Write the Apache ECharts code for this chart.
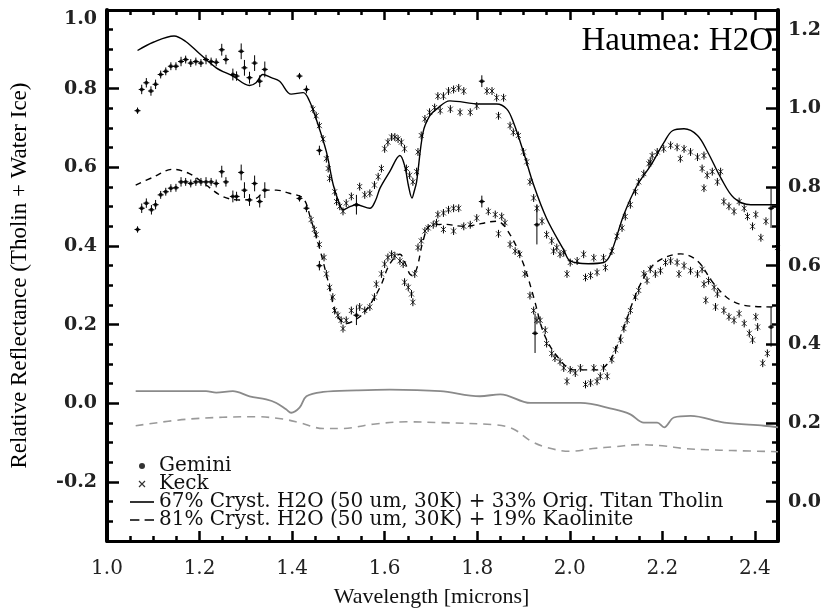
<!DOCTYPE html>
<html>
<head>
<meta charset="utf-8">
<script src="https://cdn.jsdelivr.net/npm/echarts@6/dist/echarts.min.js"></script>
<style>
  html, body { margin: 0; padding: 0; background: #fff; }
  #chart { width: 825px; height: 613px; }
</style>
</head>
<body>
<div id="chart"></div>
<script>
// Axis ticks (left: reflectance, right: residual scale, bottom: wavelength)
const xTicks = [1.0, 1.2, 1.4, 1.6, 1.8, 2.0, 2.2, 2.4];
const leftTicks = [-0.2, 0.0, 0.2, 0.4, 0.6, 0.8, 1.0];
const rightTicks = [0.0, 0.2, 0.4, 0.6, 0.8, 1.0, 1.2];

// Gemini spectrum, upper copy: [wavelength, reflectance, error]
const gemUpper = [
  [1.066,0.744,0.008],[1.075,0.798,0.012],[1.085,0.815,0.012],[1.095,0.794,0.012],[1.105,0.811,0.012],
  [1.116,0.836,0.010],[1.127,0.844,0.010],[1.138,0.857,0.010],[1.149,0.857,0.010],[1.160,0.869,0.012],
  [1.170,0.874,0.010],[1.181,0.865,0.010],[1.192,0.869,0.010],[1.203,0.865,0.010],[1.214,0.874,0.012],
  [1.225,0.869,0.010],[1.236,0.867,0.010],[1.248,0.899,0.015],[1.257,0.874,0.012],[1.272,0.836,0.015],
  [1.280,0.832,0.012],[1.290,0.895,0.020],[1.297,0.853,0.020],[1.308,0.828,0.015],[1.319,0.865,0.020],
  [1.330,0.819,0.015],[1.341,0.849,0.020],[1.416,0.832,0.008],[1.431,0.798,0.010],[1.459,0.643,0.012],
  [1.539,0.505,0.025],[1.810,0.819,0.015],[1.929,0.454,0.050],[2.435,0.496,0.050]
];

// Keck spectrum, upper copy: [wavelength, reflectance, error?]
const keckUpper = [
  [1.445,0.748],[1.452,0.731],[1.459,0.706],[1.467,0.672],[1.474,0.622],[1.478,0.597],[1.481,0.572],
  [1.492,0.538],[1.496,0.513],[1.503,0.501],[1.510,0.488],[1.517,0.509],[1.528,0.526],[1.546,0.551],
  [1.557,0.530],[1.568,0.534],[1.578,0.555],[1.586,0.576],[1.593,0.597],[1.600,0.647],[1.607,0.664],
  [1.615,0.677],[1.622,0.677],[1.629,0.672],[1.636,0.664],[1.643,0.647],[1.647,0.597],[1.654,0.580],
  [1.661,0.563],[1.669,0.589],[1.672,0.639],[1.679,0.681],[1.687,0.723],[1.697,0.740],[1.708,0.752],
  [1.715,0.781],[1.720,0.744],[1.727,0.781],[1.738,0.794],[1.742,0.748],[1.749,0.798],[1.760,0.802],
  [1.763,0.740],[1.771,0.794],[1.785,0.740],[1.799,0.756],[1.821,0.794],[1.832,0.794],[1.842,0.777],
  [1.846,0.731],[1.857,0.777],[1.871,0.706],[1.878,0.689],[1.889,0.681],[1.900,0.639],[1.907,0.614],
  [1.914,0.563],[1.922,0.522],[1.929,0.496],[1.940,0.463],[1.950,0.429],[1.961,0.413],[1.965,0.387],
  [1.972,0.396],[1.979,0.379],[1.987,0.383],[1.994,0.329],[2.001,0.358],[2.016,0.362],[2.030,0.379],
  [2.034,0.320],[2.045,0.325],[2.052,0.370],[2.059,0.333],[2.073,0.370],[2.077,0.345],[2.091,0.387],
  [2.102,0.425],[2.113,0.446],[2.120,0.475],[2.131,0.505],[2.142,0.538],[2.149,0.563],[2.160,0.584],
  [2.171,0.609],[2.174,0.614],[2.178,0.630],[2.189,0.639],[2.203,0.647],[2.218,0.656],[2.232,0.651],
  [2.239,0.622],[2.247,0.647],[2.261,0.639],[2.276,0.626],[2.286,0.597],[2.290,0.630],[2.290,0.547],
  [2.297,0.580],[2.308,0.589],[2.319,0.563],[2.326,0.589],[2.333,0.513],[2.344,0.501],[2.355,0.488,0.02],
  [2.366,0.513],[2.377,0.496,0.02],[2.384,0.475],[2.395,0.450,0.035],[2.402,0.480],[2.413,0.421,0.03],
  [2.424,0.463,0.03],[2.449,0.396,0.04]
];

// Gemini spectrum, lower copy
const gemLower = [
  [1.066,0.442,0.008],[1.075,0.496,0.012],[1.085,0.509,0.012],[1.096,0.492,0.012],[1.105,0.505,0.012],
  [1.116,0.530,0.010],[1.127,0.538,0.010],[1.138,0.547,0.010],[1.149,0.548,0.010],[1.160,0.563,0.012],
  [1.170,0.563,0.010],[1.181,0.559,0.010],[1.192,0.563,0.010],[1.203,0.563,0.010],[1.214,0.563,0.012],
  [1.225,0.563,0.010],[1.236,0.559,0.010],[1.248,0.589,0.015],[1.257,0.563,0.012],[1.272,0.526,0.015],
  [1.280,0.526,0.012],[1.290,0.587,0.020],[1.297,0.542,0.020],[1.308,0.517,0.015],[1.319,0.559,0.020],
  [1.330,0.513,0.015],[1.341,0.542,0.020],[1.416,0.521,0.008],[1.431,0.496,0.010],[1.459,0.350,0.012],
  [1.539,0.224,0.025],[1.810,0.513,0.015],[1.925,0.178,0.050],[2.435,0.194,0.050]
];

// Keck spectrum, lower copy
const keckLower = [
  [1.441,0.467],[1.448,0.442],[1.452,0.429],[1.459,0.404],[1.469,0.371],[1.474,0.329],[1.481,0.295],
  [1.488,0.270],[1.492,0.236],[1.499,0.224],[1.506,0.211],[1.510,0.190],[1.517,0.211],[1.528,0.236],
  [1.546,0.245],[1.557,0.236],[1.568,0.245],[1.578,0.270],[1.582,0.303],[1.593,0.329],[1.600,0.354],
  [1.607,0.371],[1.615,0.379],[1.622,0.375],[1.633,0.362],[1.640,0.354],[1.643,0.308],[1.651,0.295],
  [1.658,0.278],[1.661,0.257],[1.665,0.329],[1.672,0.396],[1.679,0.413],[1.687,0.438],[1.694,0.446],
  [1.705,0.454],[1.712,0.459],[1.715,0.480],[1.727,0.484],[1.727,0.442],[1.738,0.492],[1.749,0.496],
  [1.749,0.438],[1.760,0.496],[1.771,0.450],[1.785,0.454],[1.799,0.471],[1.824,0.488],[1.839,0.480],
  [1.846,0.431],[1.853,0.475],[1.860,0.459],[1.871,0.404],[1.882,0.387],[1.892,0.379],[1.903,0.329],
  [1.914,0.274],[1.922,0.236],[1.929,0.211],[1.936,0.211],[1.947,0.186],[1.950,0.152],[1.961,0.127],
  [1.968,0.115],[1.979,0.106],[1.987,0.090],[1.994,0.056],[2.001,0.085],[2.012,0.077],[2.023,0.090],
  [2.034,0.048],[2.045,0.052],[2.052,0.090],[2.059,0.056],[2.066,0.069],[2.073,0.090],[2.081,0.069],
  [2.091,0.111],[2.099,0.136],[2.110,0.161],[2.117,0.190],[2.124,0.211],[2.131,0.236],[2.142,0.270],
  [2.149,0.287],[2.160,0.329],[2.167,0.312],[2.174,0.341],[2.185,0.329],[2.196,0.337],[2.207,0.358],
  [2.218,0.362],[2.232,0.358],[2.236,0.329],[2.247,0.350],[2.261,0.337],[2.276,0.329],[2.286,0.341],
  [2.290,0.303],[2.294,0.262],[2.300,0.312],[2.312,0.295],[2.315,0.245],[2.319,0.278],[2.333,0.236],
  [2.344,0.220],[2.355,0.211,0.02],[2.366,0.228],[2.377,0.203,0.02],[2.388,0.178],[2.395,0.161,0.035],
  [2.402,0.220],[2.406,0.194],[2.417,0.102,0.03],[2.427,0.127,0.03]
];

// Mixture models
const modelTholin = [
  [1.066,0.897],[1.100,0.918],[1.145,0.934],[1.170,0.920],[1.199,0.890],[1.236,0.853],[1.272,0.832],
  [1.308,0.808],[1.322,0.815],[1.337,0.836],[1.355,0.828],[1.373,0.819],[1.398,0.786],[1.424,0.790],
  [1.437,0.770],[1.452,0.723],[1.474,0.640],[1.489,0.555],[1.503,0.505],[1.510,0.492],[1.525,0.500],
  [1.539,0.505],[1.568,0.496],[1.580,0.515],[1.590,0.547],[1.611,0.589],[1.633,0.630],[1.643,0.605],
  [1.652,0.550],[1.659,0.522],[1.664,0.540],[1.669,0.563],[1.683,0.689],[1.697,0.730],[1.712,0.748],
  [1.741,0.769],[1.806,0.761],[1.842,0.761],[1.864,0.748],[1.878,0.715],[1.900,0.639],[1.922,0.555],
  [1.950,0.470],[1.987,0.390],[2.001,0.362],[2.040,0.355],[2.073,0.358],[2.088,0.379],[2.117,0.480],
  [2.146,0.555],[2.175,0.605],[2.204,0.664],[2.222,0.693],[2.247,0.698],[2.276,0.681],[2.298,0.639],
  [2.327,0.572],[2.355,0.522],[2.391,0.505],[2.450,0.505]
];
const modelKaolinite = [
  [1.062,0.555],[1.100,0.575],[1.142,0.595],[1.178,0.584],[1.214,0.555],[1.250,0.526],[1.286,0.517],
  [1.322,0.521],[1.344,0.542],[1.366,0.542],[1.394,0.534],[1.424,0.521],[1.440,0.470],[1.459,0.396],
  [1.481,0.295],[1.495,0.228],[1.517,0.203],[1.540,0.215],[1.560,0.237],[1.590,0.295],[1.611,0.354],
  [1.633,0.379],[1.645,0.355],[1.654,0.329],[1.660,0.325],[1.670,0.345],[1.683,0.413],[1.698,0.452],
  [1.730,0.455],[1.770,0.450],[1.842,0.463],[1.871,0.429],[1.900,0.354],[1.922,0.270],[1.944,0.178],
  [1.973,0.119],[2.009,0.085],[2.059,0.085],[2.088,0.111],[2.117,0.194],[2.146,0.286],[2.175,0.345],
  [2.204,0.370],[2.240,0.380],[2.276,0.362],[2.312,0.303],[2.348,0.262],[2.391,0.247],[2.450,0.245]
];

// Residual curves (grey)
const residTholin = [
  [1.062,0.031],[1.214,0.031],[1.236,0.027],[1.272,0.031],[1.308,0.018],[1.344,0.010],[1.366,0.001],
  [1.387,-0.015],[1.398,-0.024],[1.416,-0.011],[1.431,0.018],[1.467,0.029],[1.539,0.033],[1.611,0.035],
  [1.720,0.031],[1.806,0.018],[1.850,0.023],[1.915,0.001],[2.023,0.001],[2.095,-0.015],[2.131,-0.028],
  [2.160,-0.049],[2.189,-0.049],[2.204,-0.061],[2.225,-0.036],[2.261,-0.032],[2.334,-0.049],
  [2.420,-0.057],[2.450,-0.061]
];
const residKaolinite = [
  [1.062,-0.057],[1.178,-0.040],[1.322,-0.034],[1.380,-0.040],[1.416,-0.049],[1.467,-0.064],
  [1.510,-0.064],[1.575,-0.053],[1.647,-0.047],[1.720,-0.049],[1.842,-0.055],[1.878,-0.065],
  [1.915,-0.095],[1.950,-0.112],[2.000,-0.122],[2.050,-0.115],[2.100,-0.110],[2.150,-0.105],
  [2.200,-0.108],[2.250,-0.115],[2.300,-0.118],[2.350,-0.120],[2.450,-0.123]
];

const NAME_THOLIN = '67% Cryst. H2O (50 um, 30K) + 33% Orig. Titan Tholin';
const NAME_KAOL = '81% Cryst. H2O (50 um, 30K) + 19% Kaolinite';
const X_PATH = 'path://M0,0L10,10M10,0L0,10';
const SOLID_ICON = 'path://M0,0H24V1.6H0Z';
const DASH_ICON = 'path://M0,0H9V1.6H0ZM14,0H23V1.6H14Z';

const LEFT_RANGE = [-0.35, 1.0];
const RIGHT_RANGE = [-0.1, 1.25];

// vertical error bar, with a short horizontal arm for Gemini points
function errorBars(withArm) {
  return function (params, api) {
    const x = api.value(0), y = api.value(1);
    let e = api.value(2);
    if (!isFinite(e)) e = 0.01;
    const c = api.coord([x, y]);
    const t = api.coord([x, y + e]);
    const b = api.coord([x, y - e]);
    const style = { stroke: '#000', lineWidth: 1 };
    const kids = [{ type: 'line', shape: { x1: c[0], y1: t[1], x2: c[0], y2: b[1] }, style }];
    if (withArm) kids.push({ type: 'line', shape: { x1: c[0] - 3, y1: c[1], x2: c[0] + 3, y2: c[1] }, style });
    return { type: 'group', children: kids };
  };
}

const serif = 'Liberation Serif';
const tickFont = { fontFamily: 'DejaVu Serif', fontSize: 19, fontWeight: 'bold', color: '#222' };
// the label at the very top edge sits a little lower than its tick
const tickRich = { edge: { fontFamily: 'DejaVu Serif', fontSize: 19, fontWeight: 'bold', color: '#222', padding: [18, 0, 0, 0] } };

function yAxisPair(pos, range, ticks, lineW) {
  const top = ticks[ticks.length - 1];
  return [
    {
      type: 'value', position: pos, min: range[0], max: range[1],
      axisLine: { show: true, onZero: false, lineStyle: { color: '#000', width: lineW } },
      axisTick: { show: true, inside: true, length: 12, lineStyle: { color: '#000', width: 2.5 }, customValues: ticks },
      axisLabel: Object.assign({
        customValues: ticks, margin: 10, rich: tickRich,
        formatter: v => (Math.abs(v - top) < 1e-9 && top >= range[1] - 1e-9) ? '{edge|' + v.toFixed(1) + '}' : v.toFixed(1)
      }, tickFont),
      splitLine: { show: false }
    },
    {
      type: 'value', position: pos, min: range[0], max: range[1], interval: 0.05,
      axisLine: { show: false, onZero: false },
      axisTick: { show: true, inside: true, length: 6, lineStyle: { color: '#000', width: 2.5 } },
      axisLabel: { show: false },
      splitLine: { show: false }
    }
  ];
}

const chart = echarts.init(document.getElementById('chart'), null, { renderer: 'canvas' });

const leftAxes = yAxisPair('left', LEFT_RANGE, leftTicks, 4);
leftAxes[0].name = 'Relative Reflectance (Tholin + Water Ice)';
leftAxes[0].nameLocation = 'middle';
leftAxes[0].nameGap = 76;
leftAxes[0].nameTextStyle = { fontFamily: serif, fontSize: 23, color: '#000' };
const rightAxes = yAxisPair('right', RIGHT_RANGE, rightTicks, 4);

const xBase = {
  type: 'value', min: 1.0, max: 2.45, interval: 0.2,
  axisTick: { show: true, inside: true, length: 10, lineStyle: { color: '#000', width: 2.5 } },
  minorTick: { show: true, splitNumber: 4, length: 5, lineStyle: { color: '#000', width: 2.5 } },
  splitLine: { show: false }, minorSplitLine: { show: false }
};

const lineSeries = (name, data, color, type, width) => ({
  name, type: 'line', data, yAxisIndex: 0, xAxisIndex: 0, smooth: 0.35,
  symbol: 'none', showSymbol: false, silent: true, animation: false,
  lineStyle: { color, width, type }, itemStyle: { color }, z: 2
});

const errSeries = (data, arm) => ({
  type: 'custom', data, renderItem: errorBars(arm), encode: { x: 0, y: 1 },
  xAxisIndex: 0, yAxisIndex: 0, silent: true, animation: false, z: 3
});

const scatter = (name, data, symbol, size, style) => ({
  name, type: 'scatter', data: data.map(d => [d[0], d[1]]), symbol, symbolSize: size,
  xAxisIndex: 0, yAxisIndex: 0, silent: true, animation: false, itemStyle: style, z: 4
});

chart.setOption({
  backgroundColor: '#fff',
  animation: false,
  grid: { left: 107, right: 47, top: 10, bottom: 69, containLabel: false },
  xAxis: [
    Object.assign({}, xBase, {
      position: 'bottom',
      axisLine: { show: true, onZero: false, lineStyle: { color: '#000', width: 3 } },
      axisLabel: { margin: 18, fontFamily: 'DejaVu Serif', fontSize: 20, color: '#222', formatter: v => v.toFixed(1),
        customValues: xTicks },
      name: 'Wavelength [microns]', nameLocation: 'middle', nameGap: 45,
      nameTextStyle: { fontFamily: serif, fontSize: 22, color: '#111', padding: [0, 22, 0, 0] }
    }),
    Object.assign({}, xBase, {
      position: 'top',
      axisLine: { show: true, onZero: false, lineStyle: { color: '#000', width: 3 } },
      axisLabel: { show: false }
    })
  ],
  yAxis: leftAxes.concat(rightAxes),
  legend: {
    orient: 'vertical', left: 125, top: 451, itemGap: -2, itemWidth: 24, itemHeight: 6,
    selectedMode: false,
    textStyle: { fontFamily: 'DejaVu Serif', fontSize: 20, color: '#111', lineHeight: 18 },
    data: [
      { name: 'Gemini', icon: 'circle', itemStyle: { color: '#000' } },
      { name: 'Keck', icon: X_PATH, itemStyle: { color: 'none', borderColor: '#000', borderWidth: 1.2 } },
      { name: NAME_THOLIN, icon: SOLID_ICON, itemStyle: { color: '#000' } },
      { name: NAME_KAOL, icon: DASH_ICON, itemStyle: { color: '#000' } }
    ]
  },
  graphic: [
    { type: 'text', right: 52, top: 25, silent: true,
      style: { text: 'Haumea: H2O', fontFamily: serif, fontSize: 33, fill: '#000' } }
  ],
  series: [
    lineSeries('residTholin', residTholin, '#8a8a8a', 'solid', 1.8),
    lineSeries('residKaolinite', residKaolinite, '#9a9a9a', [8, 6], 1.6),
    lineSeries(NAME_THOLIN, modelTholin, '#000', 'solid', 1.4),
    lineSeries(NAME_KAOL, modelKaolinite, '#000', [6, 5], 1.4),
    errSeries(gemUpper, true),
    errSeries(gemLower, true),
    errSeries(keckUpper, false),
    errSeries(keckLower, false),
    scatter('Gemini', gemUpper, 'circle', 4, { color: '#000' }),
    scatter('Gemini', gemLower, 'circle', 4, { color: '#000' }),
    scatter('Keck', keckUpper, X_PATH, 5, { color: 'none', borderColor: '#000', borderWidth: 1 }),
    scatter('Keck', keckLower, X_PATH, 5, { color: 'none', borderColor: '#000', borderWidth: 1 })
  ]
});
</script>
</body>
</html>
